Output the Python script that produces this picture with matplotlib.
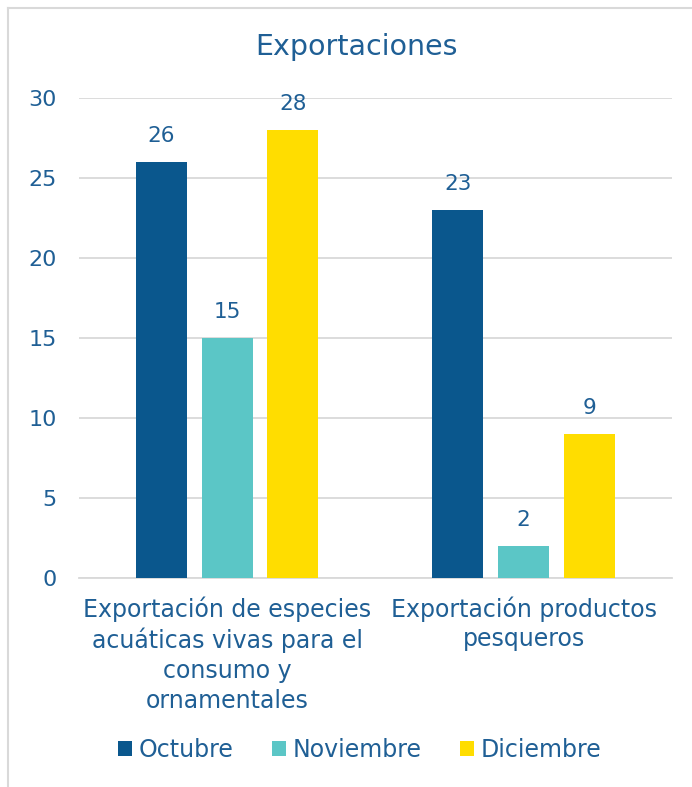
import matplotlib.pyplot as plt
import numpy as np

categories = ['Exportación de especies\nacuáticas vivas para el\nconsumo y\nornamentales',
              'Exportación productos\npesqueros']
series = ['Octubre', 'Noviembre', 'Diciembre']
values = [
    [26, 23],
    [15, 2],
    [28, 9],
]
colors = ['#0A578D', '#5BC6C6', '#FFDD00']
TEXT = '#1F5F95'

plt.rcParams['font.family'] = ['DejaVu Sans']

fig = plt.figure(figsize=(6.92, 7.87), dpi=100)
ax = fig.add_axes([0.114, 0.2656, 0.857, 0.61])

x = np.arange(len(categories))
width = 0.172
step = 0.222
for i, (name, vals) in enumerate(zip(series, values)):
    pos = x + (i - 1) * step
    bars = ax.bar(pos, vals, width, color=colors[i], label=name, zorder=3)
    for b, v in zip(bars, vals):
        ax.text(b.get_x() + b.get_width() / 2, v + 1.0, str(v),
                ha='center', va='bottom', fontsize=15.5, color=TEXT)

ax.set_xlim(-0.5, 1.5)
ax.set_ylim(0, 30)
ax.set_yticks(range(0, 31, 5))
ax.yaxis.grid(color='#D9D9D9', linewidth=1.3, zorder=0)
ax.set_xticks(x)
ax.set_xticklabels(categories, fontsize=17, color=TEXT, linespacing=1.31)
ax.tick_params(axis='y', labelsize=16, labelcolor=TEXT, length=0, pad=16)
ax.tick_params(axis='x', length=0, pad=13)
for s in ['top', 'right', 'left']:
    ax.spines[s].set_visible(False)
ax.spines['bottom'].set_color('#D9D9D9')
ax.spines['bottom'].set_linewidth(1.3)

fig.text(0.515, 0.94, 'Exportaciones', ha='center', va='center',
         fontsize=20.5, color=TEXT)

fig.legend(loc='center', bbox_to_anchor=(0.52, 0.047), ncol=3, frameon=False,
           fontsize=17, labelcolor=TEXT, handlelength=0.6, handleheight=0.6,
           handletextpad=0.3, columnspacing=1.6)

# chart frame
fig.add_artist(plt.Line2D([0.0115, 0.0115], [0, 0.99], color='#D9D9D9',
                          linewidth=1.5, transform=fig.transFigure))
fig.add_artist(plt.Line2D([0.0115, 1], [0.99, 0.99], color='#D9D9D9',
                          linewidth=1.5, transform=fig.transFigure))

fig.savefig('out.png', dpi=100)
